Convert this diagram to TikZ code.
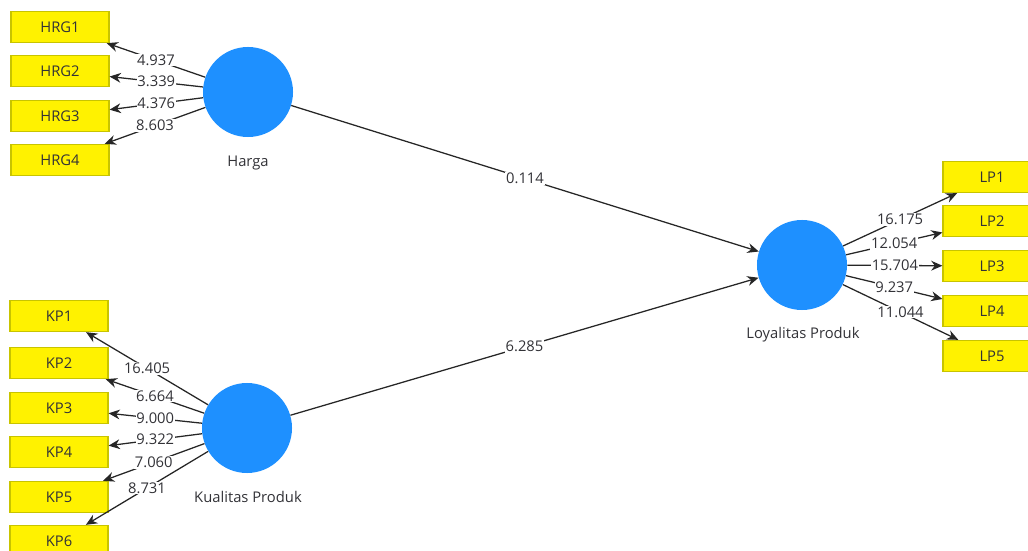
\documentclass[tikz,border=0pt]{standalone}
\usepackage{fontspec}
\setmainfont{Open Sans}
\usepackage{tikz}
\usetikzlibrary{arrows.meta}
\definecolor{conblue}{RGB}{30,144,255}
\definecolor{boxedge}{RGB}{200,196,0}
\definecolor{labelgray}{RGB}{50,50,55}

\begin{document}
\begin{tikzpicture}[
			x=0.025cm, y=-0.025cm,
			indicator/.style={rectangle, draw=boxedge, fill=yellow, line width=0.8pt,
					minimum width=2.45cm, minimum height=0.78cm, inner sep=0pt,
					font=\fontsize{10.5}{12}\selectfont, text=labelgray},
			construct/.style={circle, fill=conblue, minimum size=2.25cm, inner sep=0pt},
			conname/.style={font=\fontsize{10.5}{12}\selectfont, text=labelgray},
			weight/.style={fill=white, inner sep=0.6pt, font=\fontsize{10.5}{12}\selectfont, text=labelgray},
			link/.style={draw=black!85, line width=0.9pt, -{Stealth[length=8pt, width=7pt]}}
		]
		\useasboundingbox (0,0) rectangle (1028,551);

		% --- Constructs ---
		\node[construct] (harga) at (248,92) {};
		\node[conname] (harganame) at (248,163) {Harga};
		\node[construct] (kualitas) at (247,428) {};
		\node[conname] (kualitasname) at (248,497) {Kualitas Produk};
		\node[construct] (loyal) at (802,265) {};
		\node[conname] (loyalname) at (803,335) {Loyalitas Produk};

		% --- Indicators of Harga ---
		\node[indicator] (hrg1) at (60,27) {HRG1};
		\node[indicator] (hrg2) at (60,71) {HRG2};
		\node[indicator] (hrg3) at (60,116) {HRG3};
		\node[indicator] (hrg4) at (60,160) {HRG4};

		% --- Indicators of Kualitas Produk ---
		\node[indicator] (kp1) at (59,316) {KP1};
		\node[indicator] (kp2) at (59,363) {KP2};
		\node[indicator] (kp3) at (59,408) {KP3};
		\node[indicator] (kp4) at (59,452) {KP4};
		\node[indicator] (kp5) at (59,497) {KP5};
		\node[indicator] (kp6) at (59,541) {KP6};

		% --- Indicators of Loyalitas Produk ---
		\node[indicator] (lp1) at (992,177) {LP1};
		\node[indicator] (lp2) at (992,221) {LP2};
		\node[indicator] (lp3) at (992,266) {LP3};
		\node[indicator] (lp4) at (992,311) {LP4};
		\node[indicator] (lp5) at (992,356) {LP5};

		% --- Outer weights ---
		\draw[link] (harga) -- node[weight] {4.937} (hrg1);
		\draw[link] (harga) -- node[weight] {3.339} (hrg2);
		\draw[link] (harga) -- node[weight] {4.376} (hrg3);
		\draw[link] (harga) -- node[weight] {8.603} (hrg4);

		\draw[link] (kualitas) -- node[weight] {16.405} (kp1);
		\draw[link] (kualitas) -- node[weight] {6.664} (kp2);
		\draw[link] (kualitas) -- node[weight] {9.000} (kp3);
		\draw[link] (kualitas) -- node[weight] {9.322} (kp4);
		\draw[link] (kualitas) -- node[weight] {7.060} (kp5);
		\draw[link] (kualitas) -- node[weight] {8.731} (kp6);

		\draw[link] (loyal) -- node[weight] {16.175} (lp1);
		\draw[link] (loyal) -- node[weight] {12.054} (lp2);
		\draw[link] (loyal) -- node[weight] {15.704} (lp3);
		\draw[link] (loyal) -- node[weight] {9.237} (lp4);
		\draw[link] (loyal) -- node[weight] {11.044} (lp5);

		% --- Inner paths ---
		\draw[link] (harga) -- node[weight] {0.114} (loyal);
		\draw[link] (kualitas) -- node[weight] {6.285} (loyal);

	\end{tikzpicture}
\end{document}
